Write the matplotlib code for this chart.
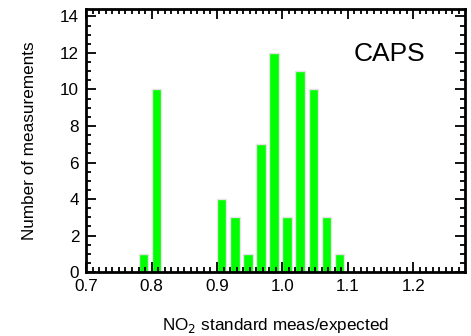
import numpy as np
import matplotlib
matplotlib.use("Agg")
import matplotlib.pyplot as plt
from matplotlib.ticker import MultipleLocator

plt.rcParams['font.family'] = ['Liberation Sans', 'DejaVu Sans']

# histogram bins (left edges) and counts
bin_left = [0.78, 0.80, 0.90, 0.92, 0.94, 0.96, 0.98, 1.00, 1.02, 1.04, 1.06, 1.08]
counts = [1, 10, 4, 3, 1, 7, 12, 3, 11, 10, 3, 1]
xticks = [0.7, 0.8, 0.9, 1.0, 1.1, 1.2]
yticks = [0, 2, 4, 6, 8, 10, 12, 14]

fig = plt.figure(figsize=(4.71, 3.36), dpi=100)
ax = fig.add_axes([0.183, 0.19, 0.804, 0.783])

ax.bar(bin_left, counts, width=0.0145, align='edge', color='#00ff00',
       edgecolor='#e4e4e4', linewidth=1.0)

ax.set_xlim(0.7, 1.279)
ax.set_ylim(0, 14.4)
ax.set_xticks(xticks)
ax.set_xticklabels(['%.1f' % t for t in xticks])
ax.set_yticks(yticks)
ax.xaxis.set_minor_locator(MultipleLocator(0.01))
ax.yaxis.set_minor_locator(MultipleLocator(0.5))
ax.tick_params(which='both', direction='in', top=True, right=True,
               labelsize=12.3, width=1.3)
ax.tick_params(which='major', length=7, pad=5)
ax.tick_params(which='minor', length=3.5)
for s in ax.spines.values():
    s.set_linewidth(2)

ax.text(0.80, 0.828, 'CAPS', transform=ax.transAxes, fontsize=19,
        ha='center', va='center')
ax.set_xlabel('NO$_2$ standard meas/expected', fontsize=12.3, labelpad=16)
ax.set_ylabel('Number of measurements', fontsize=12.3, labelpad=17)

fig.savefig('out.png', dpi=100)
